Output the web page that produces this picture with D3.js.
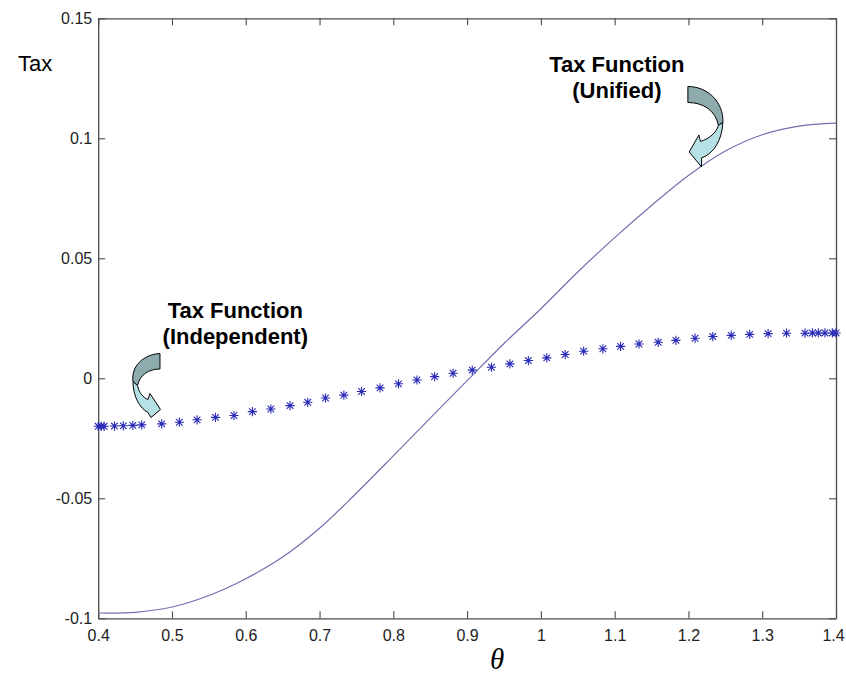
<!DOCTYPE html>
<html>
<head>
<meta charset="utf-8">
<script src="https://cdn.jsdelivr.net/npm/d3@7"></script>
<style>
  body { margin: 0; background: #fff; }
</style>
</head>
<body>
<div id="chart"></div>
<script>
// Tax function, unified (solid line)
const unifiedTheta = [0.40, 0.45, 0.50, 0.55, 0.60, 0.65, 0.70, 0.75, 0.80, 0.85, 0.90,
                      0.95, 1.00, 1.05, 1.10, 1.15, 1.20, 1.25, 1.30, 1.35, 1.40];
const unifiedTax = [-0.0978, -0.0975, -0.0953, -0.0905, -0.0835, -0.0745, -0.0625, -0.0478, -0.0323, -0.0166, -0.0010,
                    0.0145, 0.0290, 0.0443, 0.0586, 0.0720, 0.0845, 0.0947, 0.1015, 0.1051, 0.1063];

// Tax function, independent (star markers)
const indepTheta = [0.400, 0.404, 0.408, 0.422, 0.434, 0.447, 0.459,
                    0.486, 0.510, 0.534, 0.559, 0.584, 0.609, 0.634, 0.660, 0.684, 0.708,
                    0.733, 0.757, 0.782, 0.807, 0.832, 0.856, 0.881, 0.907, 0.933, 0.958,
                    0.983, 1.008, 1.033, 1.058, 1.084, 1.108, 1.133, 1.159, 1.183, 1.209,
                    1.233, 1.258, 1.283, 1.308, 1.333,
                    1.358, 1.368, 1.376, 1.385, 1.395, 1.400];
const indepTax = [-0.0200, -0.0200, -0.0200, -0.0199, -0.0198, -0.0196, -0.0194,
                  -0.0190, -0.0183, -0.0173, -0.0163, -0.0155, -0.0139, -0.0128, -0.0114, -0.0100, -0.0082,
                  -0.0070, -0.0055, -0.0040, -0.0023, -0.0007, 0.0007, 0.0021, 0.0034, 0.0046, 0.0060,
                  0.0074, 0.0085, 0.0099, 0.0113, 0.0123, 0.0133, 0.0143, 0.0150, 0.0158, 0.0167,
                  0.0174, 0.0179, 0.0183, 0.0186, 0.0188,
                  0.0188, 0.0189, 0.0189, 0.0189, 0.0189, 0.0189];

const xTicks = [0.4, 0.5, 0.6, 0.7, 0.8, 0.9, 1.0, 1.1, 1.2, 1.3, 1.4];
const xTickLabels = ["0.4", "0.5", "0.6", "0.7", "0.8", "0.9", "1", "1.1", "1.2", "1.3", "1.4"];
const yTicks = [-0.1, -0.05, 0, 0.05, 0.1, 0.15];
const yTickLabels = ["-0.1", "-0.05", "0", "0.05", "0.1", "0.15"];

const largura = 846;
const altura = 675;
const margem = { top: 18.3, right: 10, bottom: 56.7, left: 98.2 };

const svg = d3.select("#chart").append("svg")
    .attr("width", largura)
    .attr("height", altura)
    .style("font-family", "'Liberation Sans', Arial, sans-serif");

const x = d3.scaleLinear()
    .domain([0.4, 1.4])
    .range([margem.left, largura - margem.right]);

const y = d3.scaleLinear()
    .domain([-0.1, 0.15])
    .range([altura - margem.bottom, margem.top]);

// Eixos (caixa estilo MATLAB, ticks para dentro)
const corEixo = "#4a4a4a";
const eixos = [
    { ax: d3.axisBottom(x).tickValues(xTicks).tickFormat((d, i) => xTickLabels[i]).tickPadding(11), t: `translate(0,${y(-0.1)})` },
    { ax: d3.axisTop(x).tickValues(xTicks).tickFormat(""), t: `translate(0,${y(0.15)})` },
    { ax: d3.axisLeft(y).tickValues(yTicks).tickFormat((d, i) => yTickLabels[i]).tickPadding(6), t: `translate(${x(0.4)},0)` },
    { ax: d3.axisRight(y).tickValues(yTicks).tickFormat(""), t: `translate(${x(1.4)},0)` }
];
eixos.forEach(e => {
    const g = svg.append("g")
        .attr("transform", e.t)
        .call(e.ax.tickSizeInner(-7).tickSizeOuter(0));
    g.select(".domain").attr("stroke", corEixo).attr("stroke-width", 1.3);
    g.selectAll(".tick line").attr("stroke", corEixo).attr("stroke-width", 1.1);
    g.selectAll(".tick text")
        .attr("fill", "#222")
        .style("font-size", "16px")
        .style("font-family", "'Liberation Sans', Arial, sans-serif");
});
// último rótulo do eixo x encostado na borda
svg.selectAll("text")
    .filter(function () { return d3.select(this).text() === "1.4"; })
    .attr("dx", -3);

// Curva unificada
const linha = d3.line()
    .x((d, i) => x(unifiedTheta[i]))
    .y(d => y(d))
    .curve(d3.curveCatmullRom.alpha(0.5));

svg.append("path")
    .datum(unifiedTax)
    .attr("d", linha)
    .attr("fill", "none")
    .attr("stroke", "#7070b0")
    .attr("stroke-width", 1.2);

// Marcadores '*'
const r = 4.6, dd = 3.3;
const estrela = `M${-r},0H${r}M0,${-r}V${r}M${-dd},${-dd}L${dd},${dd}M${-dd},${dd}L${dd},${-dd}`;
svg.append("g").selectAll("path")
    .data(indepTax)
    .enter()
    .append("path")
    .attr("transform", (d, i) => `translate(${x(indepTheta[i])},${y(d)})`)
    .attr("d", estrela)
    .attr("fill", "none")
    .attr("stroke", "#2a2ab8")
    .attr("stroke-width", 1.1);

// Setas curvas (anotações)
function seta(cx, cy, escuro, claro) {
    const g = svg.append("g").attr("transform", `translate(${x(cx)},${y(cy)})`);
    g.append("path").attr("d", escuro)
        .attr("fill", "#8eabae").attr("stroke", "#000").attr("stroke-width", 1);
    g.append("path").attr("d", claro)
        .attr("fill", "#b7e2e5").attr("stroke", "#000").attr("stroke-width", 1);
}

seta(0.4844, -0.0130,
    "M-0.5,-56 C-17.5,-55 -29.5,-43 -27.5,-28 L-23,-24 C-20.5,-35 -11.5,-40.5 -0.5,-40.5 Z",
    "M-27.5,-28 C-27.5,-13 -20.5,-1 -12.5,3 L-9.5,8 L0,0 L-10.5,-16 L-12.5,-10 C-17.5,-12 -21.5,-17 -23,-24 Z");

seta(1.2010, 0.0943,
    "M-1.3,-65.5 C18.7,-65.5 34.7,-49.5 33.7,-29.5 L29.2,-26.5 C26.7,-41.5 13.7,-49.5 -1.3,-49.5 Z",
    "M33.7,-29.5 C32.7,-11.5 24.7,1.5 12.4,6 L12.4,15 L0,0 L9.7,-17 L11.2,-10.5 C20.7,-13.5 27.2,-19.5 29.2,-26.5 Z");

// Textos
function rotulo(linhas, cx, cy) {
    const t = svg.append("text")
        .attr("x", x(cx))
        .attr("y", y(cy))
        .attr("text-anchor", "middle")
        .style("font-size", "22px")
        .style("font-weight", "bold")
        .attr("fill", "#000");
    linhas.forEach((s, i) => {
        t.append("tspan").attr("x", x(cx)).attr("dy", i === 0 ? 0 : 25.5).text(s);
    });
}
rotulo(["Tax Function", "(Independent)"], 0.5858, 0.0251);
rotulo(["Tax Function", "(Unified)"], 1.1030, 0.1275);

svg.append("text")
    .attr("x", 18)
    .attr("y", 71)
    .style("font-size", "22px")
    .attr("fill", "#000")
    .text("Tax");

svg.append("text")
    .attr("x", (x(0.4) + x(1.4)) / 2 + 30)
    .attr("y", 669)
    .attr("text-anchor", "middle")
    .style("font-family", "'Liberation Serif', 'Times New Roman', serif")
    .style("font-style", "italic")
    .style("font-size", "29px")
    .attr("fill", "#000")
    .text("θ");
</script>
</body>
</html>
